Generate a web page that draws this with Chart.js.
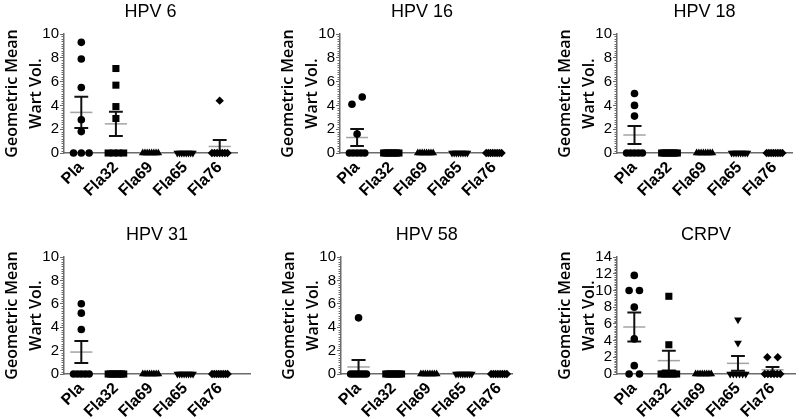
<!DOCTYPE html>
<html><head><meta charset="utf-8">
<script src="https://cdn.jsdelivr.net/npm/chart.js@4.4.1/dist/chart.umd.min.js"></script>
<style>
html,body{margin:0;padding:0;background:#fff;width:800px;height:419px;overflow:hidden;}
canvas{position:absolute;}
</style></head><body>
<canvas id="c0"></canvas><canvas id="c1"></canvas><canvas id="c2"></canvas>
<canvas id="c3"></canvas><canvas id="c4"></canvas><canvas id="c5"></canvas>
<script>
// ---- data ----
const groups = ['Pla', 'Fla32', 'Fla69', 'Fla65', 'Fla76'];
const panelTitles = ['HPV 6', 'HPV 16', 'HPV 18', 'HPV 31', 'HPV 58', 'CRPV'];
const yAxisTitle = ['Geometric Mean', 'Wart Vol.'];
const yTicksHPV = [0, 2, 4, 6, 8, 10];
const yTicksCRPV = [0, 2, 4, 6, 8, 10, 12, 14];

const hpv6 = [
  [9.3, 7.9, 5.5, 2.8, 1.8, 0, 0, 0],
  [7.1, 5.7, 3.9, 2.9, 0, 0, 0, 0],
  [0, 0, 0, 0, 0, 0, 0, 0],
  [0, 0, 0, 0, 0, 0, 0, 0],
  [4.4, 0, 0, 0, 0, 0, 0, 0]
];
const hpv16 = [
  [4.7, 4.1, 1.6, 0, 0, 0, 0, 0],
  [0, 0, 0, 0, 0, 0, 0, 0],
  [0, 0, 0, 0, 0, 0, 0, 0],
  [0, 0, 0, 0, 0, 0, 0, 0],
  [0, 0, 0, 0, 0, 0, 0, 0]
];
const hpv18 = [
  [5.0, 4.0, 3.1, 0, 0, 0, 0, 0],
  [0, 0, 0, 0, 0, 0, 0, 0],
  [0, 0, 0, 0, 0, 0, 0, 0],
  [0, 0, 0, 0, 0, 0, 0, 0],
  [0, 0, 0, 0, 0, 0, 0, 0]
];
const hpv31 = [
  [6.0, 5.2, 3.8, 0, 0, 0, 0, 0],
  [0, 0, 0, 0, 0, 0, 0, 0],
  [0, 0, 0, 0, 0, 0, 0, 0],
  [0, 0, 0, 0, 0, 0, 0, 0],
  [0, 0, 0, 0, 0, 0, 0, 0]
];
const hpv58 = [
  [4.8, 0, 0, 0, 0, 0, 0, 0],
  [0, 0, 0, 0, 0, 0, 0, 0],
  [0, 0, 0, 0, 0, 0, 0, 0],
  [0, 0, 0, 0, 0, 0, 0, 0],
  [0, 0, 0, 0, 0, 0, 0, 0]
];
const crpv = [
  [11.8, 10.0, 10.0, 8.0, 4.2, 1.0, 0, 0],
  [9.3, 3.5, 0, 0, 0, 0, 0, 0],
  [0, 0, 0, 0, 0, 0, 0, 0],
  [6.5, 3.7, 0, 0, 0, 0, 0, 0],
  [2.0, 2.0, 0, 0, 0, 0, 0, 0]
];

// ---- layout / style ----
const panels = [
  {data: hpv6,  ticks: yTicksHPV,  left: 0,   top: 0,   w: 242, h: 197, plotBottom: 153, xMax: 5.5},
  {data: hpv16, ticks: yTicksHPV,  left: 276, top: 0,   w: 237, h: 197, plotBottom: 153, xMax: 5.3},
  {data: hpv18, ticks: yTicksHPV,  left: 553, top: 0,   w: 244, h: 197, plotBottom: 153, xMax: 5.5},
  {data: hpv31, ticks: yTicksHPV,  left: 0,   top: 223, w: 255, h: 196, plotBottom: 374, xMax: 5.87},
  {data: hpv58, ticks: yTicksHPV,  left: 277, top: 223, w: 241, h: 196, plotBottom: 374, xMax: 5.38},
  {data: crpv,  ticks: yTicksCRPV, left: 553, top: 223, w: 247, h: 196, plotBottom: 374, xMax: 5.65}
];
const markerStyle = ['circle', 'rect', 'triangle', 'triangle', 'rectRot'];
const markerRot = [0, 0, 0, 180, 0];
const markerRad = [3.8, 5, 4.5, 4.5, 4.2];
const AXIS = '#6b6b6b';

function spread(vals, yMax) {
  const thr = 0.065 * yMax;
  const idx = vals.map((v, i) => i).sort((a, b) => vals[a] - vals[b]);
  const offs = new Array(vals.length).fill(0);
  let cluster = [];
  const flush = () => {
    const k = cluster.length;
    if (k > 1) {
      const step = Math.min(0.3, 0.45 / (k - 1));
      cluster.forEach((ii, j) => { offs[ii] = (j - (k - 1) / 2) * step; });
    }
    cluster = [];
  };
  idx.forEach(i => {
    if (cluster.length && Math.abs(vals[cluster[cluster.length - 1]] - vals[i]) >= thr) flush();
    cluster.push(i);
  });
  flush();
  return offs;
}
function meanSem(vals) {
  const n = vals.length;
  const m = vals.reduce((a, b) => a + b, 0) / n;
  const sd = Math.sqrt(vals.reduce((a, b) => a + (b - m) * (b - m), 0) / (n - 1));
  return [m, sd / Math.sqrt(n)];
}

const minorTicks = {
  id: 'minorTicks',
  beforeDatasetsDraw(chart) {
    const ys = chart.scales.y, ctx = chart.ctx, x0 = chart.chartArea.left;
    ctx.save();
    ctx.strokeStyle = AXIS; ctx.lineWidth = 1;
    ctx.beginPath();
    for (let k = 0; k <= ys.max * 5 + 0.001; k++) {
      if (k % 10 === 0) continue;
      const py = Math.round(ys.getPixelForValue(k / 5)) + 0.5;
      ctx.moveTo(x0 - 2.5, py); ctx.lineTo(x0, py);
    }
    ctx.stroke();
    ctx.restore();
  }
};

panels.forEach((P, pi) => {
  const cv = document.getElementById('c' + pi);
  cv.width = P.w; cv.height = P.h;
  cv.style.left = P.left + 'px'; cv.style.top = P.top + 'px';
  const yMax = P.ticks[P.ticks.length - 1];
  const datasets = [];
  P.data.forEach((vals, g) => {
    const offs = spread(vals, yMax);
    const cx = g + 1;
    const [m, s] = meanSem(vals);
    datasets.push({
      data: vals.map((v, i) => ({x: cx + offs[i], y: v})),
      showLine: false, pointStyle: markerStyle[g], pointRotation: markerRot[g],
      pointRadius: markerRad[g], backgroundColor: '#000', borderColor: '#000',
      borderWidth: 0, clip: false, order: 0
    });
    datasets.push({
      data: [{x: cx - 0.32, y: m}, {x: cx + 0.32, y: m}],
      borderColor: '#a3a3a3', borderWidth: 1.5, pointRadius: 0, clip: false, order: 2
    });
    datasets.push({
      data: [{x: cx - 0.2, y: m + s}, {x: cx + 0.2, y: m + s}, {x: cx, y: null},
             {x: cx, y: m + s}, {x: cx, y: m - s}, {x: cx, y: null},
             {x: cx - 0.2, y: m - s}, {x: cx + 0.2, y: m - s}],
      borderColor: '#111', borderWidth: 2, pointRadius: 0, spanGaps: false, clip: false, order: 1
    });
  });
  new Chart(cv, {
    type: 'line',
    data: {datasets},
    plugins: [minorTicks],
    options: {
      responsive: false, animation: false, events: [],
      layout: {padding: {top: 1, left: 0, right: 0, bottom: 0}},
      plugins: {
        legend: {display: false}, tooltip: {enabled: false},
        title: {display: true, text: panelTitles[pi], fullSize: false, color: '#000',
                font: {family: 'Liberation Sans', size: 18, weight: 'normal', lineHeight: 1.2},
                padding: {top: 0, bottom: 11.4}}
      },
      scales: {
        x: {
          type: 'linear', min: 0.5, max: P.xMax,
          afterBuildTicks: sc => { sc.ticks = groups.map((_, i) => ({value: i + 1})); },
          afterFit: sc => { sc.height = P.h - (P.plotBottom - P.top); },
          grid: {display: false, drawTicks: false, tickLength: 0},
          border: {display: true, color: AXIS, width: 1.5},
          ticks: {
            autoSkip: false, minRotation: 45, maxRotation: 45, padding: 5, color: '#000',
            font: {family: 'Liberation Sans', size: 16, weight: 'bold'},
            callback: v => groups[Math.round(v) - 1]
          }
        },
        y: {
          min: 0, max: yMax,
          afterBuildTicks: sc => { sc.ticks = P.ticks.map(v => ({value: v})); },
          afterFit: sc => { sc.width = 64; },
          grid: {display: true, drawOnChartArea: false, drawTicks: true, tickLength: 4, color: AXIS, lineWidth: 1},
          border: {display: true, color: AXIS, width: 1.5},
          ticks: {autoSkip: false, padding: 1, color: '#000', font: {family: 'Liberation Sans', size: 15}},
          title: {display: true, text: yAxisTitle, color: '#000',
                  font: {family: 'Open Sans', size: 16, weight: '600', lineHeight: 1.5},
                  padding: {top: 0, bottom: 0}}
        }
      }
    }
  });
});
</script>
</body></html>
